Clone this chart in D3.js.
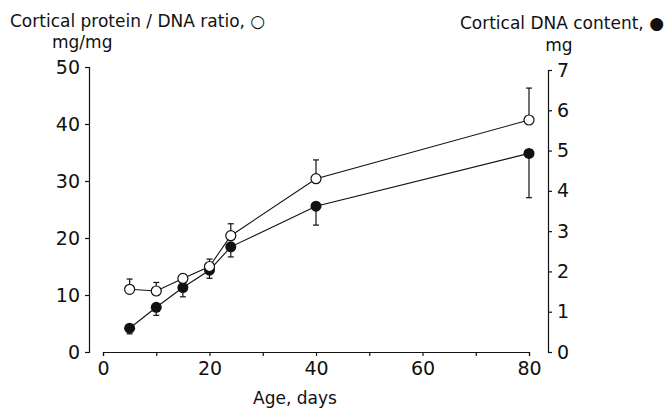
<!DOCTYPE html>
<html lang="en">
<head>
    <meta charset="UTF-8">
    <title>Cortical protein / DNA</title>
    <script src="https://cdn.jsdelivr.net/npm/d3@7/dist/d3.min.js"></script>
    <style>
        body { margin: 0; background: #fff; }
        text { font-family: "DejaVu Sans", sans-serif; fill: #111; }
    </style>
</head>
<body>
<div id="grafica"></div>
<script>
// data
days = [5, 10, 15, 20, 24, 40, 80]
ratio = [11.0, 10.7, 12.9, 15.0, 20.4, 30.4, 40.7]     // protein/DNA, mg/mg (open)
ratioSE = [1.8, 1.5, 0.7, 1.3, 2.1, 3.3, 5.6]
dna = [0.59, 1.11, 1.60, 2.03, 2.61, 3.62, 4.93]       // DNA content, mg (filled)
dnaSE = [0.14, 0.20, 0.23, 0.20, 0.25, 0.47, 1.10]
xTicks = [0, 10, 20, 30, 40, 50, 60, 70, 80]
leftTicks = [0, 10, 20, 30, 40, 50]
rightTicks = [0, 1, 2, 3, 4, 5, 6, 7]

ancho = 666
alto = 408
svg = d3.select('#grafica')
    .append('svg')
    .attr('width', ancho)
    .attr('height', alto)

x = d3.scaleLinear().domain([0, 80]).range([103, 529])
yL = d3.scaleLinear().domain([0, 50]).range([352, 67])
yR = d3.scaleLinear().domain([0, 7]).range([352, 70])

function styleAxis(g, size) {
    g.attr('font-family', null)
    g.select('.domain').attr('stroke', '#111').attr('stroke-width', 1.2)
    g.selectAll('.tick line').attr('stroke', '#111').attr('stroke-width', 1.2)
    g.selectAll('.tick text').style('font-size', size + 'px').attr('fill', '#111')
}

// axes
gx = svg.append('g')
    .attr('transform', 'translate(0,352)')
    .call(d3.axisBottom(x).tickValues(xTicks).tickSize(4).tickSizeOuter(4).tickPadding(6)
        .tickFormat(function(d) { return d % 20 == 0 ? d : '' }))
styleAxis(gx, 19)

gl = svg.append('g')
    .attr('transform', 'translate(89,0)')
    .call(d3.axisLeft(yL).tickValues(leftTicks).tickSize(4).tickSizeOuter(4).tickPadding(5))
styleAxis(gl, 19)

gr = svg.append('g')
    .attr('transform', 'translate(548,0)')
    .call(d3.axisRight(yR).tickValues(rightTicks).tickSize(4).tickSizeOuter(4).tickPadding(5)
        .tickFormat(d3.format('d')))
styleAxis(gr, 19)

// titles
svg.append('text').attr('x', 10).attr('y', 27).style('font-size', '17px')
    .text('Cortical protein / DNA ratio, \u25CB')
svg.append('text').attr('x', 52).attr('y', 48).style('font-size', '17px')
    .text('mg/mg')
svg.append('text').attr('x', 664).attr('y', 29).attr('text-anchor', 'end').style('font-size', '17px')
    .text('Cortical DNA content, \u25CF')
svg.append('text').attr('x', 559).attr('y', 51).attr('text-anchor', 'middle').style('font-size', '17px')
    .text('mg')
svg.append('text').attr('x', 295).attr('y', 404).attr('text-anchor', 'middle').style('font-size', '17px')
    .text('Age, days')

openData = days.map(function(d, i) { return { d: d, v: ratio[i], se: ratioSE[i] } })
fillData = days.map(function(d, i) { return { d: d, v: dna[i], se: dnaSE[i] } })

line = function(y) {
    return d3.line().x(function(p) { return x(p.d) }).y(function(p) { return y(p.v) })
}

svg.append('path').datum(fillData).attr('d', line(yR))
    .attr('fill', 'none').attr('stroke', '#111').attr('stroke-width', 1.1)
svg.append('path').datum(openData).attr('d', line(yL))
    .attr('fill', 'none').attr('stroke', '#111').attr('stroke-width', 1.1)

// error bars: open go up, filled go down
function errBars(data, y, dir) {
    g = svg.append('g').attr('stroke', '#111').attr('stroke-width', 1.2)
    g.selectAll('line.v').data(data).enter().append('line')
        .attr('x1', function(p) { return x(p.d) }).attr('x2', function(p) { return x(p.d) })
        .attr('y1', function(p) { return y(p.v) }).attr('y2', function(p) { return y(p.v + dir * p.se) })
    g.selectAll('line.c').data(data).enter().append('line')
        .attr('x1', function(p) { return x(p.d) - 3 }).attr('x2', function(p) { return x(p.d) + 3 })
        .attr('y1', function(p) { return y(p.v + dir * p.se) }).attr('y2', function(p) { return y(p.v + dir * p.se) })
}
errBars(openData, yL, 1)
errBars(fillData, yR, -1)

svg.selectAll('circle.f').data(fillData).enter().append('circle')
    .attr('cx', function(p) { return x(p.d) }).attr('cy', function(p) { return yR(p.v) })
    .attr('r', 5.5).attr('fill', '#111')
svg.selectAll('circle.o').data(openData).enter().append('circle')
    .attr('cx', function(p) { return x(p.d) }).attr('cy', function(p) { return yL(p.v) })
    .attr('r', 5).attr('fill', '#fff').attr('stroke', '#111').attr('stroke-width', 1.2)
</script>
</body>
</html>
